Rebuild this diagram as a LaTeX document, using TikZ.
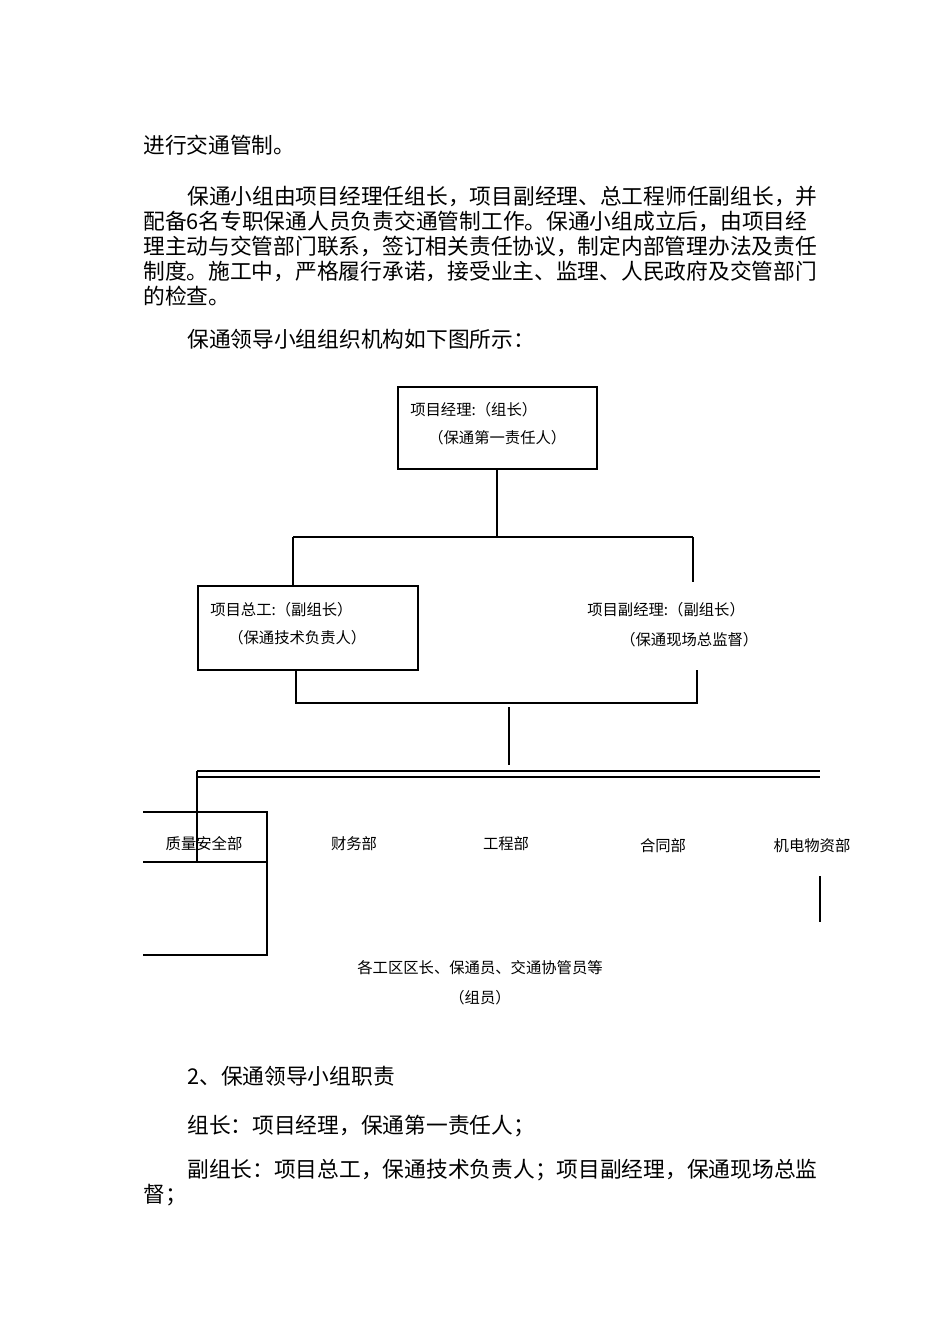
\documentclass[tikz,border=0pt]{standalone}
\usepackage{fontspec}
\setmainfont{Noto Sans CJK SC}
\usetikzlibrary{positioning}
\tikzset{
  body/.style={anchor=west,inner sep=0pt,font=\fontsize{16.3pt}{18pt}\selectfont},
  orgtext/.style={inner sep=0pt,font=\fontsize{11.5pt}{13pt}\selectfont},
  orgbox/.style={draw,thick},
  link/.style={thick}
}
\begin{document}
\begin{tikzpicture}[x=0.75pt,y=-0.75pt]
    \useasboundingbox[fill=white] (0,0) rectangle (950,1344);
    % text above the chart
    \node[body] (t1) at (143,145) {进行交通管制。};
    \node[body] (t2) at (187,197) {保通小组由项目经理任组长，项目副经理、总工程师任副组长，并};
    \node[body] (t3) at (143,221) {配备6名专职保通人员负责交通管制工作。保通小组成立后，由项目经};
    \node[body] (t4) at (143,246) {理主动与交管部门联系，签订相关责任协议，制定内部管理办法及责任};
    \node[body] (t5) at (143,271) {制度。施工中，严格履行承诺，接受业主、监理、人民政府及交管部门};
    \node[body] (t6) at (143,296) {的检查。};
    \node[body] (t7) at (187,339) {保通领导小组组织机构如下图所示：};

    % leader
    \draw[orgbox] (398,387) rectangle (597,469);
    \node[orgtext,anchor=west] (lead1) at (410,410) {项目经理:（组长）};
    \node[orgtext,anchor=west] (lead2) at (428,438) {（保通第一责任人）};
    \coordinate (leadS) at (497,469);
    \coordinate (splitM) at (497,537);
    \coordinate (splitL) at (293,537);
    \coordinate (splitR) at (693,537);
    \draw[link] (leadS) -- (splitM);
    \draw[link] (splitL) -- (splitR);

    % deputies
    \draw[orgbox] (198,586) rectangle (418,670);
    \node[orgtext,anchor=west] (chief1) at (210,610) {项目总工:（副组长）};
    \node[orgtext,anchor=west] (chief2) at (228,638) {（保通技术负责人）};
    \node[orgtext,anchor=west] (dep1) at (587,610) {项目副经理:（副组长）};
    \node[orgtext,anchor=west] (dep2) at (620,640) {（保通现场总监督）};
    \draw[link] (splitL) -- (293,586);
    \draw[link] (splitR) -- (693,582);
    \draw[link] (296,670) -- (296,703) -- (697,703) -- (697,670);
    \coordinate (joinT) at (509,707);
    \coordinate (joinB) at (509,765);
    \draw[very thick] (joinT) -- (joinB);

    % departments
    \draw[link] (197,771) -- (820,771);
    \draw[very thick] (197,777) -- (820,777);
    \draw[link] (197,771) -- (197,862);
    \draw[thick] (143,812) -- (267,812) -- (267,955) -- (143,955);
    \draw[thick] (143,862) -- (267,862);
    \node[orgtext] (qa) at (204,844) {质量安全部};
    \node[orgtext] (fin) at (354,844) {财务部};
    \node[orgtext] (eng) at (506,844) {工程部};
    \node[orgtext] (con) at (663,846) {合同部};
    \node[orgtext] (mat) at (812,846) {机电物资部};
    \draw[link] (820,876) -- (820,922);
    \node[orgtext] (mem1) at (480,968) {各工区区长、保通员、交通协管员等};
    \node[orgtext] (mem2) at (480,998) {（组员）};

    % text below the chart
    \node[body] (b1) at (187,1076) {2、保通领导小组职责};
    \node[body] (b2) at (187,1126) {组长：项目经理，保通第一责任人；};
    \node[body] (b3) at (187,1170) {副组长：项目总工，保通技术负责人；项目副经理，保通现场总监};
    \node[body] (b4) at (143,1195) {督；};
\end{tikzpicture}
\end{document}
